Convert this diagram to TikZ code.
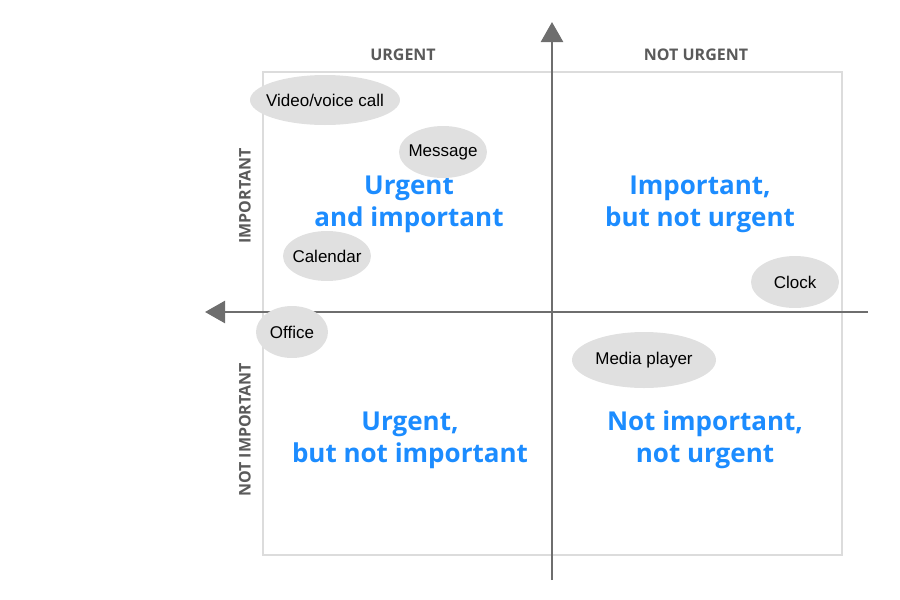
\documentclass[tikz,border=0pt]{standalone}
\usepackage{fontspec}
\setmainfont{Liberation Sans}
\setsansfont{Open Sans}
\usepackage{tikz}
\usetikzlibrary{positioning,shapes,arrows.meta}
\definecolor{axisgray}{RGB}{110,110,110}
\definecolor{boxgray}{RGB}{220,220,220}
\definecolor{bubble}{RGB}{224,224,224}
\definecolor{quadblue}{RGB}{28,140,255}
\definecolor{headgray}{RGB}{90,90,90}

\begin{document}
\begin{tikzpicture}[x=1pt,y=-1pt,
  axis/.style={draw=axisgray,line width=2.6pt,-{Triangle[length=20pt,width=22pt,fill=axisgray]}},
  bubble/.style={ellipse,fill=bubble,inner xsep=-6pt,inner ysep=0pt,font=\fontsize{17}{20}\selectfont},
  quad/.style={align=center,text=quadblue,font=\sffamily\bfseries\fontsize{26}{32}\selectfont},
  head/.style={text=headgray,font=\sffamily\bfseries\fontsize{16}{19}\selectfont}]
  \useasboundingbox (0,0) rectangle (900,600);
  % frame of the matrix
  \node (frame) [draw=boxgray,line width=1.5pt,minimum width=579pt,minimum height=483pt,inner sep=0pt] at (552.5,313.5) {};
  % axes
  \coordinate (vbot) at (552,580);
  \coordinate (vtop) at (552,22);
  \coordinate (hright) at (868,312);
  \coordinate (hleft) at (205,312);
  \draw[axis] (vbot) -- (vtop);
  \draw[axis] (hright) -- (hleft);
  % headings
  \node (urg) [head] at (403,55) {URGENT};
  \node (nurg) [head] at (696,55) {NOT URGENT};
  \node (imp) [head,rotate=90] at (245,196) {IMPORTANT};
  \node (nimp) [head,rotate=90] at (245,430) {NOT IMPORTANT};
  % quadrants
  \node (q1) [quad] at (409,204) {Urgent\\and important};
  \node (q2) [quad] at (700,204) {Important,\\but not urgent};
  \node (q3) [quad] at (410,440) {Urgent,\\but not important};
  \node (q4) [quad] at (705,440) {Not important,\\not urgent};
  % apps
  \node (call) [bubble,minimum width=150pt,minimum height=50pt] at (325,100) {Video/voice call};
  \node (msg) [bubble,minimum width=88pt,minimum height=52pt] at (443,152) {Message};
  \node (cal) [bubble,minimum width=88pt,minimum height=50pt] at (327,256) {Calendar};
  \node (off) [bubble,minimum width=72pt,minimum height=52pt] at (292,332) {Office};
  \node (clk) [bubble,minimum width=88pt,minimum height=52pt] at (795,282) {Clock};
  \node (media) [bubble,minimum width=144pt,minimum height=56pt] at (644,360) {Media player};
\end{tikzpicture}
\end{document}
